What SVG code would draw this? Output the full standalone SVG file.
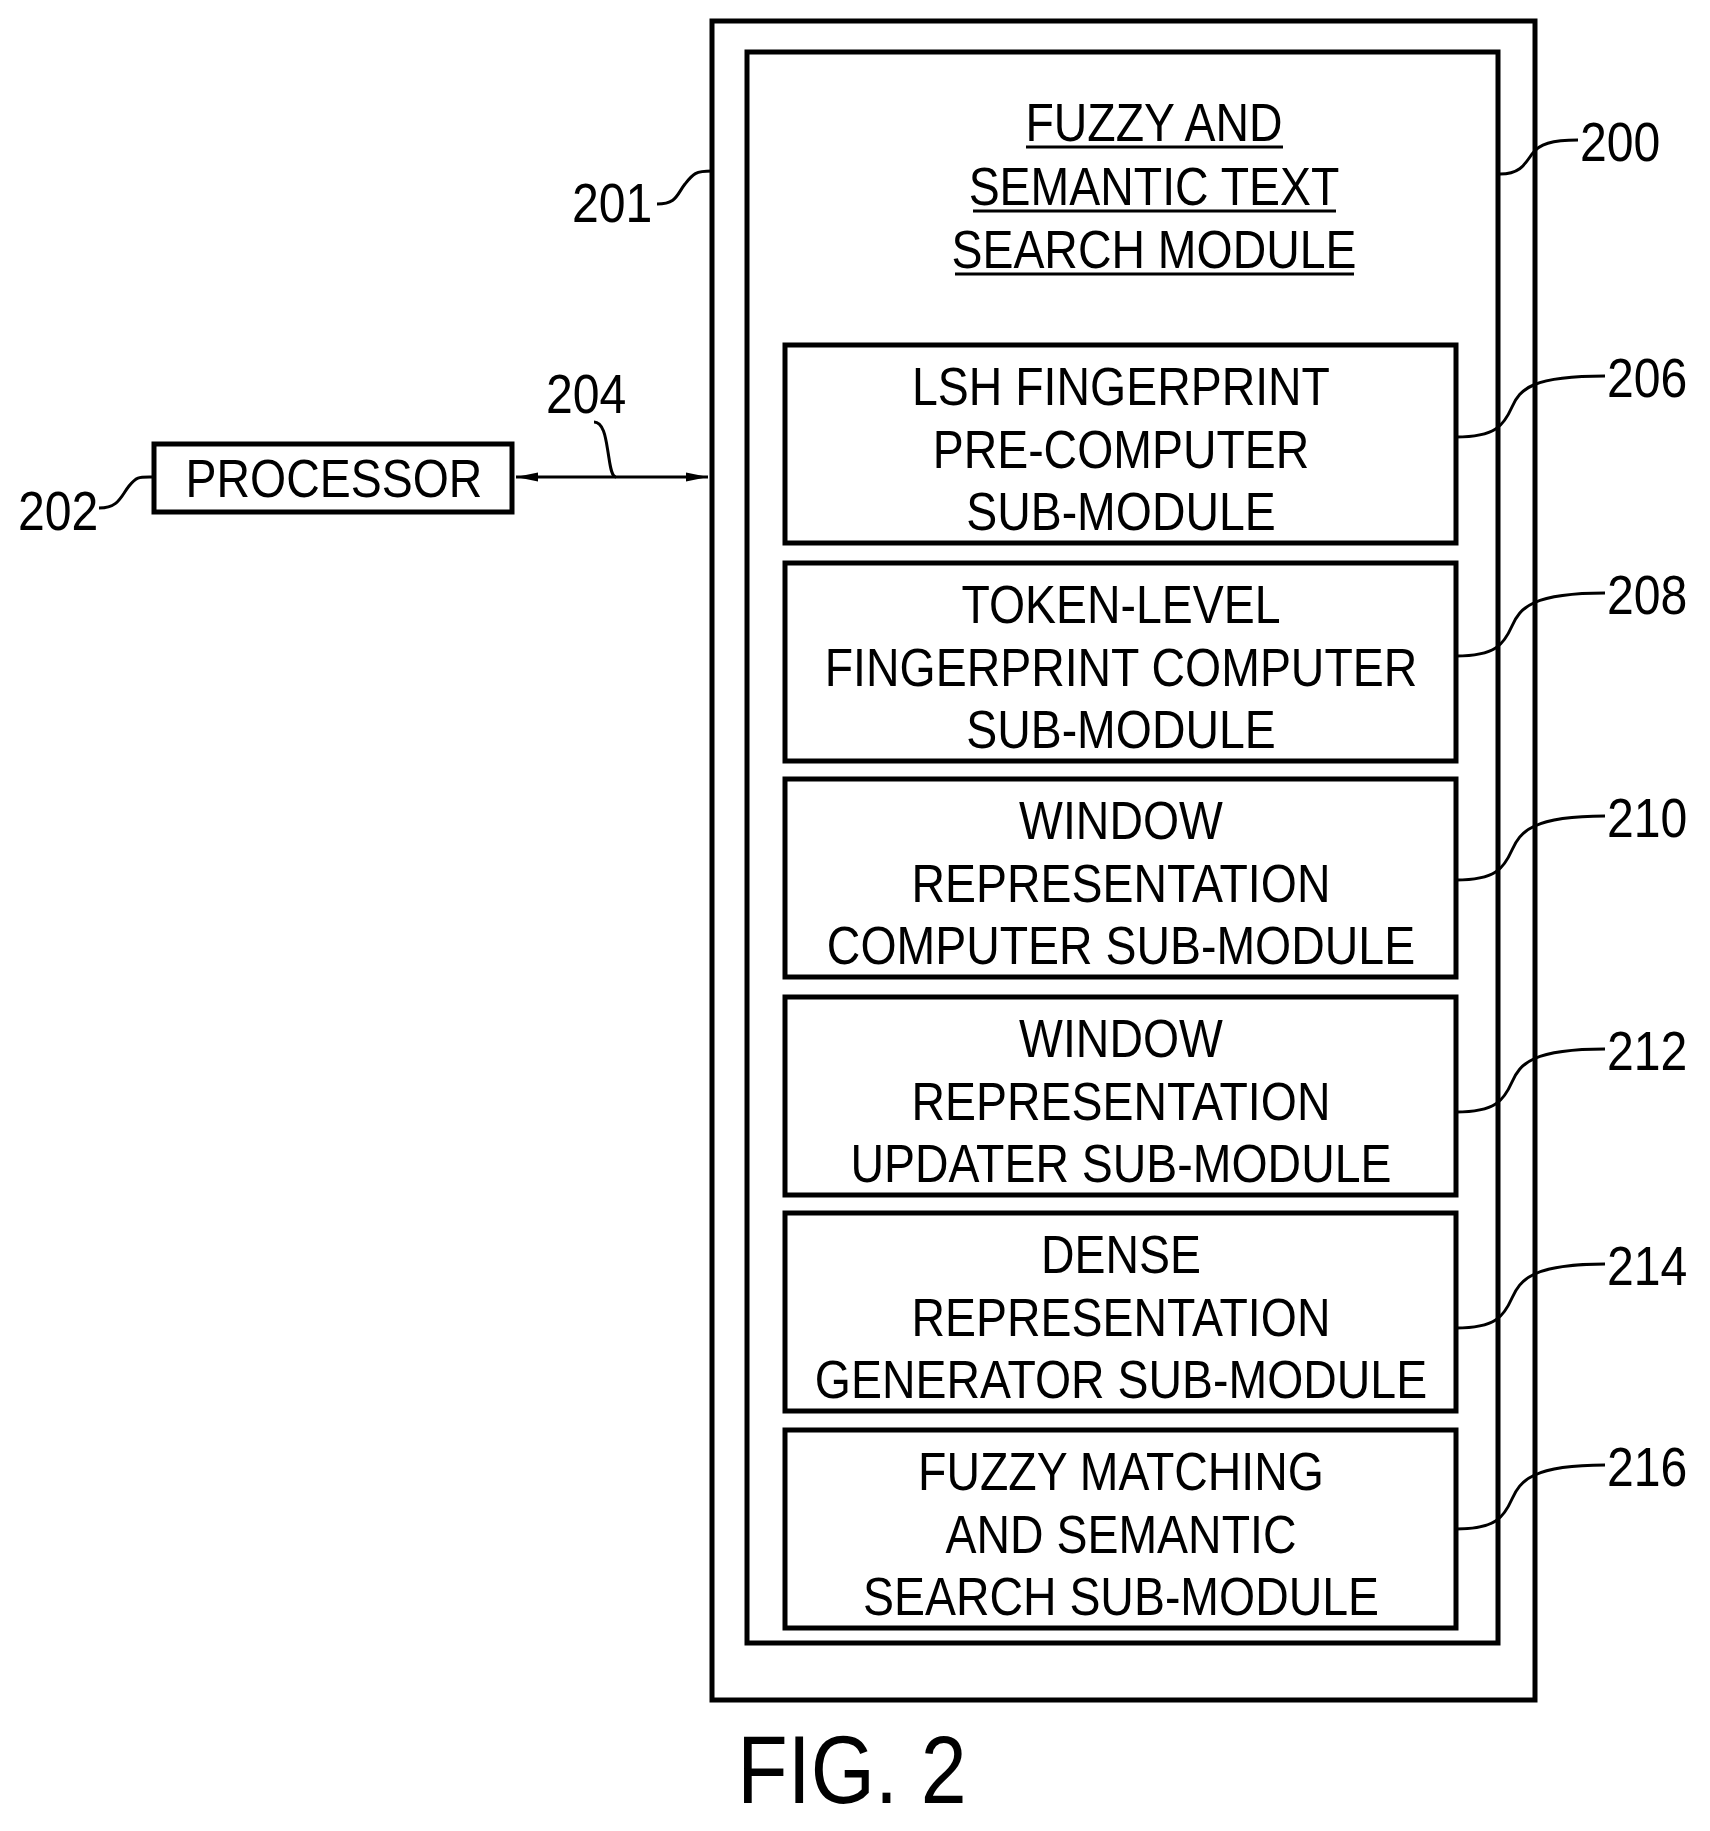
<svg xmlns="http://www.w3.org/2000/svg" width="1710" height="1831" viewBox="0 0 1710 1831">
<style>
text{font-family:"Liberation Sans",Arial,sans-serif;fill:#000}
.t{font-size:54px;text-anchor:middle}
.n{font-size:56px}
.b{fill:none;stroke:#000;stroke-width:5}
.l{fill:none;stroke:#000;stroke-width:3}
</style>
<defs>
<marker id="h" viewBox="0 0 20 10" refX="20" refY="5" markerWidth="22" markerHeight="11" markerUnits="userSpaceOnUse" orient="auto-start-reverse"><path d="M0,1 L20,5 L0,9 z"/></marker></defs>
<rect width="1710" height="1831" fill="#fff"/>
<g id="n200"><rect class="b" x="712" y="21" width="823" height="1679"/><rect class="b" x="747" y="52" width="751" height="1591"/>
<g transform="translate(1154,0) scale(0.86,1) translate(-1154,0)"><text class="t" x="1154" y="141">FUZZY AND</text><text class="t" x="1154" y="205">SEMANTIC TEXT</text><text class="t" x="1154" y="268">SEARCH MODULE</text></g>
<path class="l" d="M1026,147H1283M973,211H1336M955,274H1354"/></g>
<g transform="translate(1121,0) scale(0.86,1) translate(-1121,0)">
<g id="n206"><text class="t" x="1121" y="405">LSH FINGERPRINT</text><text class="t" x="1121" y="468">PRE-COMPUTER</text><text class="t" x="1121" y="530">SUB-MODULE</text></g>
<g id="n208"><text class="t" x="1121" y="623">TOKEN-LEVEL</text><text class="t" x="1121" y="686">FINGERPRINT COMPUTER</text><text class="t" x="1121" y="748">SUB-MODULE</text></g>
<g id="n210"><text class="t" x="1121" y="839">WINDOW</text><text class="t" x="1121" y="902">REPRESENTATION</text><text class="t" x="1121" y="964">COMPUTER SUB-MODULE</text></g>
<g id="n212"><text class="t" x="1121" y="1057">WINDOW</text><text class="t" x="1121" y="1120">REPRESENTATION</text><text class="t" x="1121" y="1182">UPDATER SUB-MODULE</text></g>
<g id="n214"><text class="t" x="1121" y="1273">DENSE</text><text class="t" x="1121" y="1336">REPRESENTATION</text><text class="t" x="1121" y="1398">GENERATOR SUB-MODULE</text></g>
<g id="n216"><text class="t" x="1121" y="1490">FUZZY MATCHING</text><text class="t" x="1121" y="1553">AND SEMANTIC</text><text class="t" x="1121" y="1615">SEARCH SUB-MODULE</text></g>
</g>
<g id="boxes">
<rect class="b" x="785" y="345" width="671" height="198"/>
<rect class="b" x="785" y="563" width="671" height="198"/>
<rect class="b" x="785" y="779" width="671" height="198"/>
<rect class="b" x="785" y="997" width="671" height="198"/>
<rect class="b" x="785" y="1213" width="671" height="198"/>
<rect class="b" x="785" y="1430" width="671" height="198"/>
</g>
<g id="n202"><rect class="b" x="154" y="444" width="358" height="68"/><text class="t" x="334" y="497" transform="translate(334,0) scale(0.86,1) translate(-334,0)">PROCESSOR</text></g>
<g id="connectors">
<line x1="516" y1="477" x2="708" y2="477" stroke="#000" stroke-width="3" marker-start="url(#h)" marker-end="url(#h)"/>
<path class="l" d="M594,422c10,0 12,18 14,30s3,25 8,25"/>
<path class="l" d="M99,508c20,0 22,-12 30,-22s10,-9 25,-9"/>
<path class="l" d="M657,204c20,0 20,-10 28,-20s10,-13 27,-13"/>
<path class="l" d="M1500,174c20,0 25,-10 32,-20s20,-14 46,-14"/>
<path class="l" d="M1456,437c40,0 48,-12 56,-30s20,-31 93,-31"/>
<path class="l" d="M1456,656c40,0 48,-12 56,-30s20,-33 93,-33"/>
<path class="l" d="M1456,880c40,0 48,-12 56,-30s20,-34 93,-34"/>
<path class="l" d="M1456,1112c40,0 48,-12 56,-30s20,-33 93,-33"/>
<path class="l" d="M1456,1328c40,0 48,-12 56,-30s20,-34 93,-34"/>
<path class="l" d="M1456,1529c40,0 48,-12 56,-30s20,-34 93,-34"/>
</g>
<g id="labels">
<text class="n" x="546" y="413" transform="translate(546,0) scale(0.86,1) translate(-546,0)">204</text>
<text class="n" x="18" y="530" transform="translate(18,0) scale(0.86,1) translate(-18,0)">202</text>
<text class="n" x="572" y="222" transform="translate(572,0) scale(0.86,1) translate(-572,0)">201</text>
<text class="n" x="1580" y="161" transform="translate(1580,0) scale(0.86,1) translate(-1580,0)">200</text>
<text class="n" x="1607" y="397" transform="translate(1607,0) scale(0.86,1) translate(-1607,0)">206</text>
<text class="n" x="1607" y="614" transform="translate(1607,0) scale(0.86,1) translate(-1607,0)">208</text>
<text class="n" x="1607" y="837" transform="translate(1607,0) scale(0.86,1) translate(-1607,0)">210</text>
<text class="n" x="1607" y="1070" transform="translate(1607,0) scale(0.86,1) translate(-1607,0)">212</text>
<text class="n" x="1607" y="1285" transform="translate(1607,0) scale(0.86,1) translate(-1607,0)">214</text>
<text class="n" x="1607" y="1486" transform="translate(1607,0) scale(0.86,1) translate(-1607,0)">216</text>
<text x="852" y="1803" style="font-size:96px;text-anchor:middle" transform="translate(852,0) scale(0.86,1) translate(-852,0)">FIG. 2</text>
</g>
</svg>
